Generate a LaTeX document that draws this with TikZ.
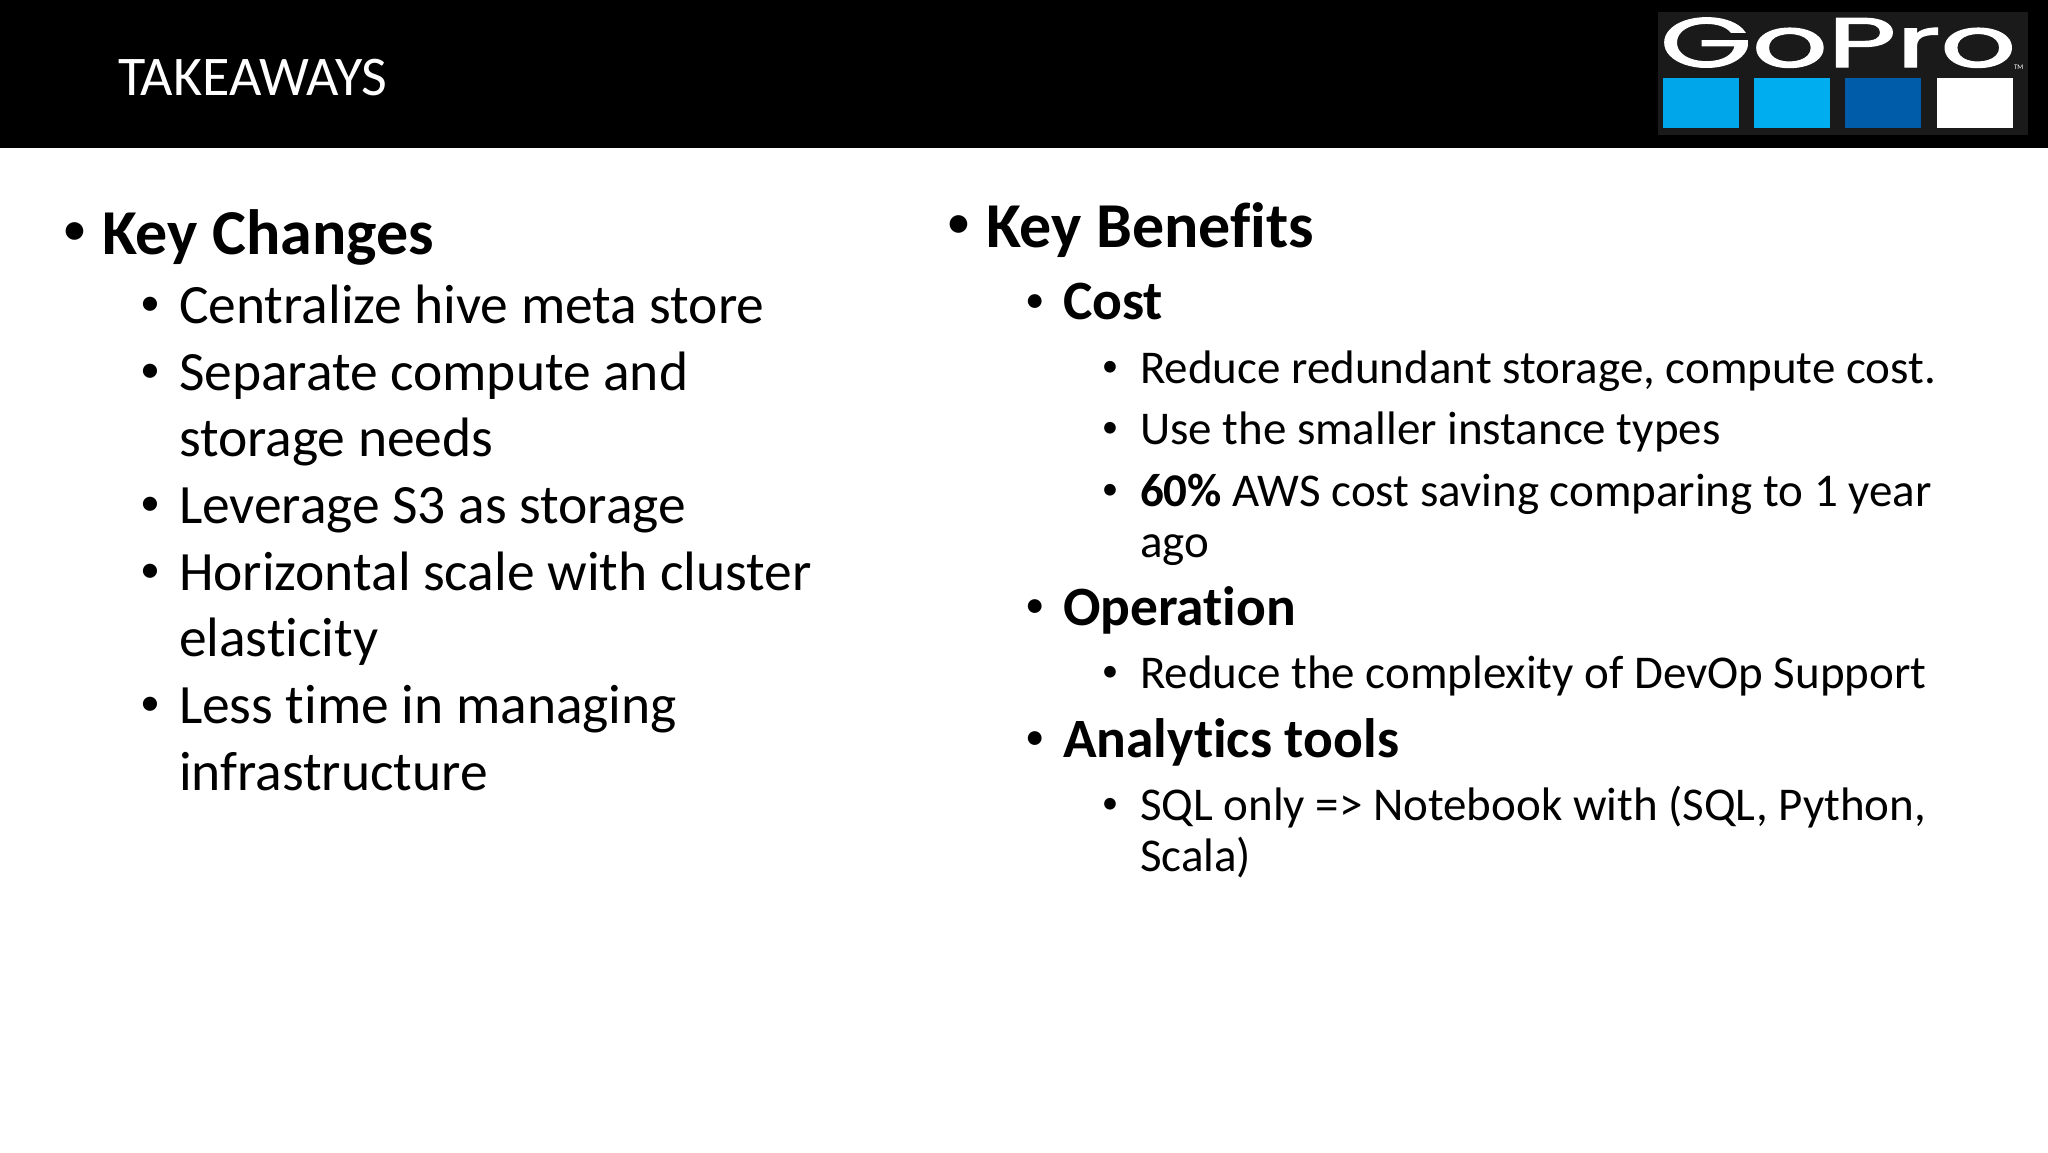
\documentclass[tikz,border=0pt]{standalone}
\usepackage{fontspec}
\setmainfont[Ligatures=NoCommon]{Carlito}
\newfontfamily\logofont[FakeBold=1.6]{Poppins}
\definecolor{goproblue}{HTML}{00A6EA}
\definecolor{goprocyan}{HTML}{00ADEE}
\definecolor{goprodark}{HTML}{005CA9}
\definecolor{logoback}{HTML}{1A1A1A}
\tikzset{
	line/.style={anchor=base west,inner sep=0pt,outer sep=0pt},
	head/.style={line,font=\fontsize{64}{70}\selectfont\bfseries},
	big/.style={line,font=\fontsize{55.5}{64}\selectfont},
	sub/.style={line,font=\fontsize{55.5}{60}\selectfont\bfseries},
	small/.style={line,font=\fontsize{47}{54}\selectfont},
	dot/.style={anchor=base,inner sep=0pt,outer sep=0pt,font=\fontsize{#1}{#1}\selectfont},
	square/.style={inner sep=0pt,outer sep=0pt,minimum width=76pt,minimum height=50pt,anchor=north west},
}
\begin{document}
\begin{tikzpicture}[x=1pt,y=-1pt]
	\useasboundingbox (0,0) rectangle (2048,1152);
	\fill[black] (0,0) rectangle (2048,148);
	\node[line,text=white,font=\fontsize{56}{60}\selectfont] (title) at (118,95) {TAKEAWAYS};
	\fill[logoback] (1658,12) rectangle (2028,135);
	\node[line,text=white,xscale=1.69,transform shape,font=\fontsize{70}{70}\logofont] (wordmark) at (1660,67) {GoPro};
	\node[line,text=white,font=\fontsize{7}{7}\selectfont] (tm) at (2014,69) {TM};
	\node[square,fill=goproblue] (sqa) at (1663,78) {};
	\node[square,fill=goprocyan] (sqb) at (1754,78) {};
	\node[square,fill=goprodark] (sqc) at (1845,78) {};
	\node[square,fill=white] (sqd) at (1937,78) {};
\node[dot=50] (dotchanges) at (74.5,245) {•};
\node[head] (changes) at (102,254) {Key Changes};
\foreach \i/\y in {1/315, 2/382, 4/515, 5/582, 7/715}
	\node[dot=40] (dotc\i) at (150,\y) {•};
\foreach \i/\y/\txt in {1/323/Centralize hive meta store, 2/390/Separate compute and, 3/456/storage needs, 4/523/Leverage S3 as storage, 5/590/Horizontal scale with cluster, 6/656/elasticity, 7/723/Less time in managing, 8/790/infrastructure}
	\node[big] (chg\i) at (179,\y) {\txt};
\node[dot=50] (dotbenefits) at (959,238.5) {•};
\node[head] (benefits) at (986,247) {Key Benefits};
\foreach \i/\y/\txt in {1/319/Cost, 2/625/Operation, 3/757/Analytics tools}
	\node[sub] (sub\i) at (1063,\y) {\txt};
\foreach \i/\y in {1/312, 2/617, 3/749}
	\node[dot=39] (dots\i) at (1035.5,\y) {•};
\foreach \i/\y in {1/376, 2/437, 3/499, 5/681, 6/813}
	\node[dot=33] (dott\i) at (1110,\y) {•};
\node[small] (item1) at (1140,383) {Reduce redundant storage, compute cost.};
\node[small] (item2) at (1140,444) {Use the smaller instance types};
\node[small] (item3) at (1140,506) {\textbf{60\%} AWS cost saving comparing to 1 year};
\node[small] (item4) at (1140,557) {ago};
\node[small] (item5) at (1140,688) {Reduce the complexity of DevOp Support};
\node[small] (item6) at (1140,820) {SQL only => Notebook with (SQL, Python,};
\node[small] (item7) at (1140,871) {Scala)};
\end{tikzpicture}
\end{document}
